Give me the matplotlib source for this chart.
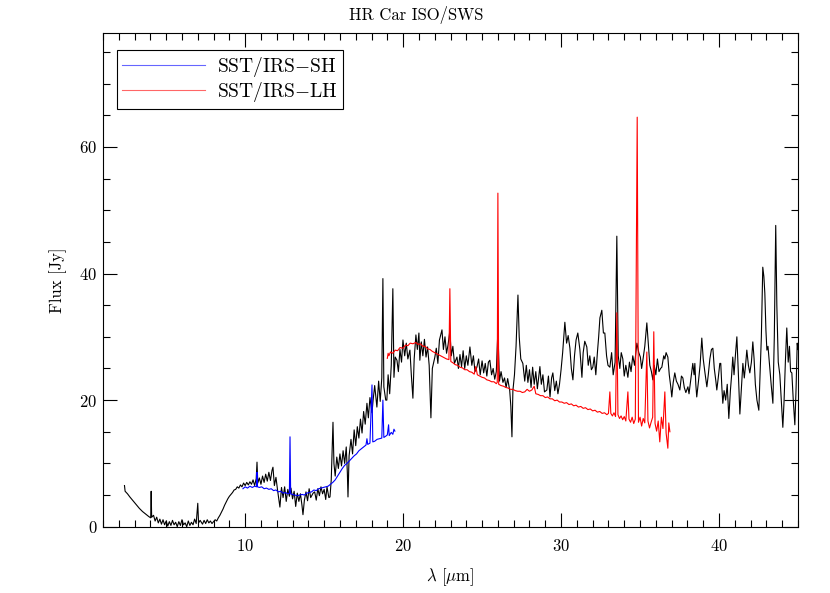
import matplotlib
matplotlib.use('Agg')
import numpy as np
import matplotlib.pyplot as plt
from matplotlib.ticker import MultipleLocator

# ISO/SWS spectrum (black)
sws_wave = [2.36, 2.40, 2.55, 2.70, 2.90, 3.10, 3.30, 3.50, 3.70, 3.90, 4.02, 4.05, 4.08, 4.20, 4.30,
            4.40, 4.50, 4.60, 4.70, 4.80, 4.90, 5.00, 5.10, 5.20, 5.30, 5.40, 5.50, 5.60, 5.70, 5.80,
            5.90, 6.00, 6.10, 6.20, 6.30, 6.40, 6.50, 6.60, 6.70, 6.80, 6.90, 7.00, 7.05, 7.15, 7.30,
            7.40, 7.50, 7.60, 7.70, 7.80, 7.90, 8.00, 8.10, 8.20, 8.30, 8.40, 8.50, 8.60, 8.70, 8.80,
            8.90, 9.00, 9.10, 9.20, 9.30, 9.40, 9.50, 9.60, 9.70, 9.80, 9.90, 10.00, 10.10, 10.20, 10.30,
            10.40, 10.50, 10.60, 10.70, 10.75, 10.80, 10.90, 11.00, 11.10, 11.20, 11.30, 11.40, 11.50, 11.60, 11.70,
            11.76, 11.85, 11.95, 12.05, 12.20, 12.30, 12.40, 12.50, 12.60, 12.70, 12.80, 12.90, 13.00, 13.10, 13.20,
            13.30, 13.40, 13.50, 13.60, 13.66, 13.75, 13.85, 13.95, 14.05, 14.15, 14.30, 14.40, 14.50, 14.60, 14.70,
            14.80, 14.90, 15.00, 15.10, 15.18, 15.30, 15.37, 15.45, 15.56, 15.62, 15.70, 15.80, 15.90, 16.00, 16.10,
            16.20, 16.30, 16.40, 16.47, 16.51, 16.58, 16.70, 16.80, 16.90, 17.00, 17.10, 17.20, 17.30, 17.40, 17.50,
            17.60, 17.71, 17.80, 17.90, 18.03, 18.10, 18.20, 18.34, 18.45, 18.55, 18.65, 18.72, 18.78, 18.90, 18.97,
            19.05, 19.15, 19.25, 19.35, 19.42, 19.50, 19.61, 19.70, 19.80, 19.90, 19.99, 20.10, 20.20, 20.30, 20.43,
            20.52, 20.62, 20.70, 20.81, 20.90, 21.00, 21.06, 21.15, 21.25, 21.35, 21.45, 21.55, 21.65, 21.76, 21.85,
            22.01, 22.10, 22.20, 22.30, 22.46, 22.55, 22.65, 22.75, 22.85, 22.96, 23.05, 23.15, 23.25, 23.41, 23.50,
            23.60, 23.70, 23.80, 23.90, 24.00, 24.10, 24.23, 24.35, 24.45, 24.55, 24.67, 24.78, 24.88, 25.00, 25.10,
            25.20, 25.30, 25.40, 25.49, 25.60, 25.70, 25.80, 25.90, 26.00, 26.10, 26.20, 26.32, 26.42, 26.52, 26.62,
            26.75, 26.82, 26.89, 26.95, 27.05, 27.15, 27.27, 27.35, 27.45, 27.58, 27.70, 27.80, 27.90, 28.00, 28.10,
            28.20, 28.30, 28.40, 28.50, 28.66, 28.75, 28.85, 28.95, 29.10, 29.20, 29.30, 29.40, 29.48, 29.60, 29.70,
            29.80, 29.90, 30.00, 30.10, 30.24, 30.35, 30.45, 30.56, 30.65, 30.75, 30.85, 30.95, 31.06, 31.19, 31.32,
            31.40, 31.50, 31.63, 31.72, 31.82, 31.92, 32.01, 32.10, 32.20, 32.30, 32.38, 32.46, 32.58, 32.68, 32.77,
            32.88, 32.97, 33.09, 33.20, 33.30, 33.42, 33.53, 33.62, 33.72, 33.81, 33.91, 34.00, 34.10, 34.23, 34.33,
            34.43, 34.54, 34.65, 34.80, 34.92, 35.02, 35.10, 35.18, 35.30, 35.43, 35.52, 35.62, 35.72, 35.81, 35.90,
            36.00, 36.10, 36.20, 36.30, 36.38, 36.50, 36.57, 36.65, 36.76, 36.85, 36.95, 37.01, 37.10, 37.20, 37.30,
            37.40, 37.52, 37.62, 37.71, 37.80, 37.90, 38.03, 38.10, 38.20, 38.34, 38.42, 38.47, 38.53, 38.59, 38.70,
            38.80, 38.91, 39.00, 39.10, 39.23, 39.32, 39.42, 39.52, 39.61, 39.70, 39.80, 39.86, 39.95, 40.05, 40.11,
            40.18, 40.24, 40.32, 40.42, 40.52, 40.62, 40.72, 40.80, 40.87, 40.95, 41.05, 41.13, 41.22, 41.32, 41.42,
            41.51, 41.60, 41.68, 41.76, 41.86, 41.95, 42.05, 42.14, 42.22, 42.30, 42.40, 42.52, 42.60, 42.68, 42.77,
            42.84, 42.90, 42.97, 43.03, 43.10, 43.20, 43.30, 43.41, 43.50, 43.59, 43.66, 43.75, 43.85, 43.95, 44.04,
            44.12, 44.20, 44.29, 44.38, 44.46, 44.53, 44.61, 44.70, 44.80, 44.88, 44.95, 45.00]
sws_flux = [6.5, 5.6, 5.2, 4.7, 4.1, 3.5, 2.9, 2.4, 2.0, 1.6, 1.4, 5.6, 1.5, 1.8, 0.9,
            1.5, 0.6, 1.2, 0.4, 1.1, 0.3, 0.9, 0.1, 0.8, 0.2, 1.0, 0.3, 0.7, 0.0, 0.8,
            0.2, 1.1, 0.3, 0.6, 0.0, 0.9, 0.2, 0.7, 0.3, 1.2, 0.5, 3.7, 0.6, 1.0, 0.4,
            1.0, 0.5, 1.1, 0.6, 0.9, 0.5, 0.8, 1.1, 0.9, 1.4, 1.8, 2.3, 2.8, 3.4, 3.9,
            4.4, 4.8, 5.1, 5.4, 5.8, 5.9, 6.3, 6.1, 6.6, 6.3, 6.9, 6.5, 7.0, 6.6, 7.1,
            6.7, 7.4, 6.5, 7.6, 10.2, 6.9, 7.7, 6.7, 8.0, 7.0, 8.3, 7.2, 8.6, 7.3, 8.9,
            9.4, 6.5, 7.8, 5.8, 3.1, 6.2, 4.6, 6.3, 4.0, 5.9, 4.8, 6.1, 4.4, 5.6, 3.2,
            5.3, 4.0, 5.2, 3.3, 1.9, 4.2, 5.5, 4.1, 6.0, 4.6, 5.3, 5.5, 4.2, 6.0, 4.9,
            6.3, 5.2, 5.9, 4.3, 6.3, 4.6, 4.7, 7.4, 16.5, 10.0, 8.0, 11.0, 9.2, 11.5, 9.6,
            12.0, 10.0, 12.6, 8.5, 4.7, 11.2, 13.8, 11.5, 15.3, 12.8, 15.8, 14.0, 17.0, 14.8, 18.2,
            16.2, 19.5, 17.2, 20.4, 18.0, 20.0, 22.3, 18.9, 23.0, 19.8, 23.5, 39.2, 22.1, 20.0, 20.0,
            24.0, 21.0, 25.5, 37.6, 23.6, 26.8, 26.3, 24.5, 28.0, 26.0, 29.5, 27.0, 29.0, 26.5, 27.9,
            24.0, 20.3, 26.5, 30.3, 28.0, 30.6, 26.3, 29.2, 27.0, 29.6, 26.8, 28.4, 25.5, 17.2, 25.0,
            26.8, 28.2, 25.8, 29.5, 31.1, 28.0, 30.0, 27.4, 28.8, 31.0, 27.0, 28.5, 25.8, 26.8, 25.0,
            27.2, 25.3, 27.8, 25.0, 27.0, 25.5, 28.4, 25.5, 27.0, 24.5, 25.2, 26.5, 24.0, 26.2, 24.3,
            25.8, 23.8, 26.0, 26.3, 24.0, 25.0, 23.3, 24.5, 31.0, 23.0, 24.5, 22.8, 23.5, 22.0, 23.4,
            21.5, 19.0, 14.2, 21.5, 24.0, 28.5, 36.6, 30.0, 26.5, 25.8, 23.0, 25.5, 22.8, 24.8, 22.0,
            25.2, 22.5, 24.5, 21.8, 25.3, 22.5, 24.0, 21.3, 21.6, 23.8, 20.5, 23.5, 24.3, 21.5, 23.0,
            21.0, 22.5, 24.8, 27.5, 32.3, 29.0, 30.2, 28.2, 25.0, 23.2, 27.0, 29.5, 30.6, 28.0, 23.6,
            27.5, 29.3, 28.4, 25.5, 27.0, 24.8, 25.2, 26.8, 24.0, 27.5, 30.0, 33.0, 34.2, 30.6, 30.6,
            27.0, 25.5, 25.2, 27.5, 24.0, 26.0, 45.9, 27.0, 25.0, 27.5, 26.5, 23.8, 25.5, 23.6, 26.0,
            24.5, 27.0, 25.5, 29.0, 27.5, 26.8, 25.0, 26.3, 28.5, 32.2, 29.0, 25.5, 24.5, 23.2, 25.5,
            24.0, 26.5, 24.5, 25.0, 25.2, 27.0, 26.5, 27.5, 26.8, 24.0, 22.0, 20.5, 22.8, 24.3, 23.0,
            22.5, 21.6, 23.8, 23.5, 22.0, 21.2, 22.1, 21.0, 23.0, 25.8, 24.0, 25.8, 22.5, 20.5, 23.0,
            25.5, 29.8, 26.5, 24.5, 22.1, 24.0, 26.5, 28.0, 28.2, 25.0, 23.0, 21.6, 23.5, 25.8, 25.8,
            22.0, 19.5, 21.5, 20.0, 22.5, 17.1, 21.5, 24.0, 26.8, 24.0, 27.5, 30.0, 24.5, 17.8, 22.0,
            25.8, 23.5, 25.5, 27.9, 25.5, 24.3, 26.0, 29.2, 26.5, 22.5, 20.0, 18.4, 24.0, 30.0, 41.0,
            39.5, 36.9, 31.0, 27.9, 28.5, 25.5, 22.5, 19.5, 30.0, 47.6, 35.0, 26.0, 24.0, 19.5, 15.7,
            20.0, 26.0, 31.4, 26.0, 28.5, 24.5, 24.3, 20.0, 16.1, 22.0, 29.0, 28.0]

# SST/IRS-SH (blue)
sh_wave = [9.86, 10.00, 10.15, 10.30, 10.45, 10.60, 10.72, 10.75, 10.78, 10.90, 11.05, 11.20, 11.35, 11.50, 11.65,
           11.80, 11.95, 12.10, 12.25, 12.40, 12.55, 12.70, 12.80, 12.84, 12.88, 13.00, 13.15, 13.30, 13.45, 13.60,
           13.75, 13.90, 14.05, 14.20, 14.35, 14.50, 14.65, 14.80, 14.95, 15.10, 15.25, 15.40, 15.55, 15.70, 15.85,
           16.00, 16.15, 16.30, 16.45, 16.60, 16.75, 16.90, 17.05, 17.20, 17.35, 17.50, 17.65, 17.71, 17.76, 17.90,
           18.03, 18.08, 18.20, 18.35, 18.50, 18.65, 18.72, 18.78, 18.90, 19.00, 19.08, 19.12, 19.25, 19.35, 19.42,
           19.48]
sh_flux = [6.0, 6.3, 6.1, 6.4, 6.2, 6.4, 6.3, 8.6, 6.3, 6.2, 6.3, 6.0, 6.1, 5.9, 6.0,
           5.7, 5.8, 5.5, 5.6, 5.3, 5.4, 5.2, 5.3, 14.2, 5.2, 5.1, 5.0, 4.9, 5.0, 5.1,
           5.0, 5.3, 5.4, 5.5, 5.8, 5.7, 6.0, 6.1, 6.2, 6.3, 6.4, 6.7, 7.0, 7.4, 8.0,
           8.6, 9.2, 9.7, 10.0, 10.4, 10.8, 11.2, 11.5, 12.0, 12.3, 12.6, 12.9, 13.9, 13.0, 13.2,
           22.4, 13.4, 13.5, 13.8, 13.9, 14.0, 20.0, 14.1, 14.3, 14.5, 16.1, 14.4, 14.9, 14.6, 15.4,
           15.1]

# SST/IRS-LH (red)
lh_wave = [19.00, 19.05, 19.10, 19.20, 19.35, 19.50, 19.65, 19.80, 19.99, 20.15, 20.30, 20.45, 20.62, 20.80, 20.95,
           21.10, 21.25, 21.40, 21.55, 21.70, 21.85, 22.00, 22.15, 22.30, 22.46, 22.60, 22.75, 22.90, 22.96, 23.02,
           23.15, 23.30, 23.45, 23.60, 23.75, 23.90, 24.05, 24.20, 24.35, 24.50, 24.60, 24.70, 24.85, 25.00, 25.15,
           25.30, 25.45, 25.60, 25.75, 25.90, 25.96, 26.00, 26.05, 26.20, 26.35, 26.50, 26.65, 26.80, 26.95, 27.10,
           27.25, 27.40, 27.55, 27.70, 27.85, 28.00, 28.15, 28.30, 28.40, 28.55, 28.70, 28.85, 29.00, 29.15, 29.30,
           29.45, 29.60, 29.75, 29.90, 30.05, 30.20, 30.35, 30.50, 30.65, 30.80, 30.95, 31.10, 31.25, 31.40, 31.55,
           31.70, 31.85, 32.00, 32.15, 32.30, 32.45, 32.60, 32.75, 32.90, 33.00, 33.09, 33.15, 33.25, 33.35, 33.45,
           33.53, 33.60, 33.70, 33.80, 33.90, 34.00, 34.10, 34.23, 34.30, 34.40, 34.50, 34.60, 34.70, 34.82, 34.90,
           35.00, 35.10, 35.20, 35.30, 35.43, 35.50, 35.60, 35.70, 35.80, 35.87, 35.95, 36.05, 36.15, 36.25, 36.35,
           36.45, 36.57, 36.65, 36.76, 36.82, 36.89]
lh_flux = [26.6, 27.4, 27.0, 27.6, 27.4, 27.9, 27.8, 28.3, 28.2, 28.7, 28.6, 29.0, 28.9, 29.1, 28.8,
           28.9, 28.5, 28.5, 28.1, 28.0, 27.7, 27.5, 27.3, 27.1, 26.9, 26.7, 26.5, 26.4, 37.6, 26.1,
           25.9, 25.6, 25.5, 25.2, 25.1, 24.8, 24.8, 24.5, 24.4, 24.1, 25.3, 24.0, 23.8, 23.6, 23.5,
           23.2, 23.1, 22.9, 22.9, 22.6, 22.8, 52.7, 22.5, 22.3, 22.2, 22.0, 21.9, 21.7, 21.7, 21.5,
           21.4, 21.4, 21.2, 21.3, 21.7, 21.4, 21.6, 22.2, 21.0, 20.9, 20.7, 20.7, 20.4, 20.5, 20.2,
           20.2, 19.9, 20.0, 19.7, 19.7, 19.5, 19.6, 19.3, 19.4, 19.1, 19.2, 18.9, 19.0, 18.7, 18.8,
           18.5, 18.6, 18.3, 18.4, 18.1, 18.2, 17.9, 18.0, 17.7, 17.9, 21.3, 17.9, 17.5, 18.0, 17.4,
           33.8, 17.7, 17.1, 17.5, 16.9, 17.4, 16.7, 21.3, 17.0, 16.5, 17.3, 16.3, 17.0, 64.7, 16.5,
           17.3, 15.9, 17.1, 16.4, 27.6, 16.7, 15.6, 16.5, 17.3, 30.8, 16.3, 15.1, 16.7, 13.4, 17.3,
           15.5, 21.3, 14.8, 12.4, 16.4, 15.0]

plt.rcParams['font.family'] = 'serif'
plt.rcParams['font.serif'] = ['cmr10', 'DejaVu Serif']
plt.rcParams['mathtext.fontset'] = 'cm'
plt.rcParams['axes.formatter.use_mathtext'] = True

fig = plt.figure(figsize=(8.3, 5.93), dpi=100)
ax = fig.add_axes([103 / 830, 1 - 526.7 / 593, 695 / 830, 493.7 / 593])

ax.plot(sws_wave, sws_flux, color='black', lw=0.8)
ax.plot(sh_wave, sh_flux, color='#0000ff', lw=0.8, label='SST/IRS$-$SH')
ax.plot(lh_wave, lh_flux, color='#ff0000', lw=0.8, label='SST/IRS$-$LH')

ax.set_xlim(1, 45)
ax.set_ylim(0, 78)
ax.xaxis.set_major_locator(MultipleLocator(10))
ax.xaxis.set_minor_locator(MultipleLocator(1))
ax.yaxis.set_major_locator(MultipleLocator(20))
ax.yaxis.set_minor_locator(MultipleLocator(5))
ax.tick_params(which='both', direction='in', top=True, right=True, labelsize=12, width=0.8)
ax.tick_params(axis='x', which='major', length=10, pad=8)
ax.tick_params(axis='y', which='major', length=10, pad=4)
ax.tick_params(which='minor', length=5)
for s in ax.spines.values():
    s.set_linewidth(0.8)

# title sits at the figure centre, as in the original
fig.text(416 / 830, 1 - 15 / 593, 'HR Car ISO/SWS', fontsize=12, ha='center', va='center')
ax.set_xlabel(r'$\lambda$ [$\mu$m]', fontsize=12, labelpad=9)
ax.set_ylabel('Flux [Jy]', fontsize=12, labelpad=9)

leg = ax.legend(loc='upper left', bbox_to_anchor=(0.02, 0.9656), borderaxespad=0,
                fontsize=14, handlelength=4.3, fancybox=False, framealpha=1,
                edgecolor='black', labelspacing=0.05, handletextpad=0.6, borderpad=0.25)
leg.get_frame().set_linewidth(0.8)
for ln in leg.get_lines():
    ln.set_alpha(0.6)

plt.savefig('out.png', dpi=100)
